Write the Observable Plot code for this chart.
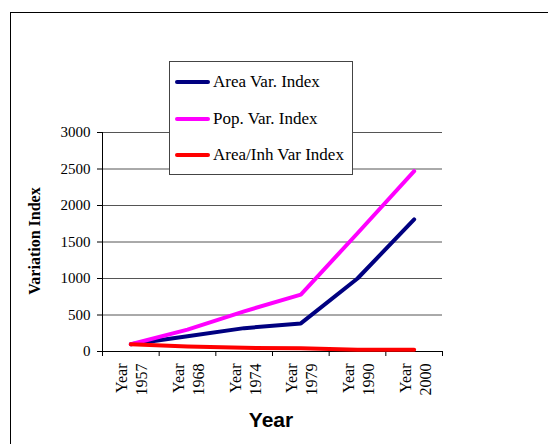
<!DOCTYPE html>
<html><head><meta charset="utf-8">
<script src="https://cdn.jsdelivr.net/npm/d3@7"></script>
<script src="https://cdn.jsdelivr.net/npm/@observablehq/plot@0.6"></script>
<style>
html,body{margin:0;padding:0;background:#fff;overflow:hidden;}
#wrap{position:relative;width:548px;height:444px;overflow:hidden;background:#fff;}
#border{position:absolute;left:10px;top:12px;width:600px;height:500px;border:1px solid #000;}
#chart{position:absolute;left:0;top:0;}
#chart svg, #chart svg text{font-family:"Liberation Serif", "Times New Roman", serif !important;}
#ylab{position:absolute;left:35px;top:241px;transform:translate(-50%,-50%) rotate(-90deg);font:bold 16px "Liberation Serif";white-space:nowrap;color:#000;}
#xlab{position:absolute;left:271px;top:420px;transform:translate(-50%,-50%);font:bold 21px "Liberation Sans";color:#000;white-space:nowrap;}
#legend{position:absolute;left:169px;top:61px;width:184px;height:114px;box-sizing:border-box;border:1px solid #444;background:#fff;}
.row{position:absolute;left:5px;height:20px;display:flex;align-items:center;font:17px "Liberation Serif", serif;color:#000;white-space:nowrap;}
.sw{width:35px;height:4px;border-radius:2px;margin-right:3px;}
</style>
</head><body>
<div id="wrap">
  <div id="border"></div>
  <div id="chart"></div>
  <div id="ylab">Variation Index</div>
  <div id="xlab">Year</div>
  <div id="legend"></div>
</div>
<script>
const years = ["1957", "1968", "1974", "1979", "1990", "2000"];
const xLabels = years.map(y => "Year\n" + y);
const areaVar = [100, 210, 320, 385, 1000, 1810];
const popVar = [100, 300, 550, 780, 1620, 2470];
const areaInhVar = [100, 70, 50, 45, 25, 25];
const seriesNames = ["Area Var. Index", "Pop. Var. Index", "Area/Inh Var Index"];
const seriesColors = ["#000080", "#ff00ff", "#ff0000"];
const yTicks = [0, 500, 1000, 1500, 2000, 2500, 3000];

const seriesValues = [areaVar, popVar, areaInhVar];
const rows = [];
seriesNames.forEach((name, s) => {
  seriesValues[s].forEach((v, i) => rows.push({pos: i + 0.5, value: v, series: name}));
});
const centers = years.map((_, i) => i + 0.5);
const bounds = d3.range(years.length + 1);

const chart = Plot.plot({
  width: 548, height: 444,
  marginLeft: 102, marginRight: 106, marginTop: 132, marginBottom: 93,
  x: {type: "linear", domain: [0, years.length]},
  y: {domain: [0, 3000]},
  color: {domain: seriesNames, range: seriesColors},
  style: {fontFamily: "Liberation Serif", fontSize: "15px", color: "#000", background: "transparent"},
  marks: [
    Plot.ruleY(yTicks.slice(1), {stroke: "#555", strokeWidth: 1}),
    Plot.axisY({ticks: yTicks, tickSize: 5, tickPadding: 7, label: null, fontSize: 15, tickFormat: d => String(d)}),
    Plot.axisX({ticks: bounds, tickSize: 5, tickFormat: () => "", label: null}),
    Plot.axisX({ticks: centers, tickSize: 0, tickPadding: 12, tickRotate: -90, lineHeight: 1.25, fontSize: 16,
      tickFormat: d => xLabels[Math.floor(d)], label: null}),
    Plot.ruleX([0], {stroke: "#000"}),
    Plot.ruleY([0], {stroke: "#000"}),
    Plot.line(rows, {x: "pos", y: "value", z: "series", stroke: "series", strokeWidth: 4, strokeLinejoin: "round", strokeLinecap: "round"})
  ]
});
document.getElementById("chart").appendChild(chart);

const legend = document.getElementById("legend");
const rowCenters = [19.5, 56.5, 93];
seriesNames.forEach((name, i) => {
  const r = document.createElement("div");
  r.className = "row";
  r.style.top = (rowCenters[i] - 10) + "px";
  const sw = document.createElement("div");
  sw.className = "sw";
  sw.style.background = seriesColors[i];
  const t = document.createElement("span");
  t.textContent = name;
  r.appendChild(sw); r.appendChild(t);
  legend.appendChild(r);
});
</script>
</body></html>
